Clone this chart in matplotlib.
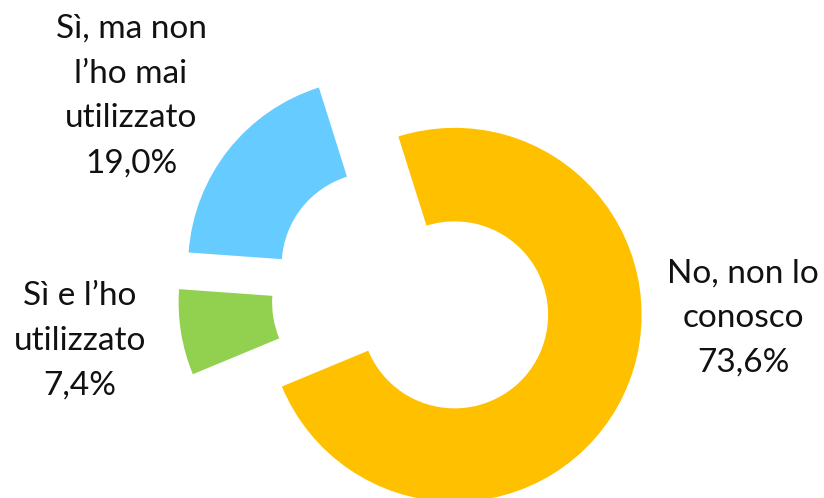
import matplotlib.pyplot as plt

categories = ['No, non lo\nconosco', 'Sì e l’ho\nutilizzato', 'Sì, ma non\nl’ho mai\nutilizzato']
values = [73.6, 7.4, 19.0]
colors = ['#FFC000', '#92D050', '#66CCFF']

# label positions (pixel coords, y measured from top)
label_pos = [(743, 318), (80, 341), (131, 96)]

W, H = 824, 498
fig = plt.figure(figsize=(W / 100, H / 100), dpi=100)
ax = fig.add_axes([0, 0, 1, 1])

R = 187
ax.pie(values, colors=colors, startangle=107.5, counterclock=False,
       center=(412, H - 295), radius=R, explode=[47] * len(values),
       wedgeprops=dict(width=R * 0.5, linewidth=0))

for cat, v, (x, y) in zip(categories, values, label_pos):
    txt = cat + '\n' + f'{v:.1f}%'.replace('.', ',')
    ax.text(x, H - y, txt, ha='center', va='center', fontsize=24,
            family='Lato', fontweight='normal', linespacing=1.62,
            color='#111111')

ax.set_xlim(0, W)
ax.set_ylim(0, H)
ax.set_aspect('equal')
ax.axis('off')

fig.savefig('out.png', dpi=100)
